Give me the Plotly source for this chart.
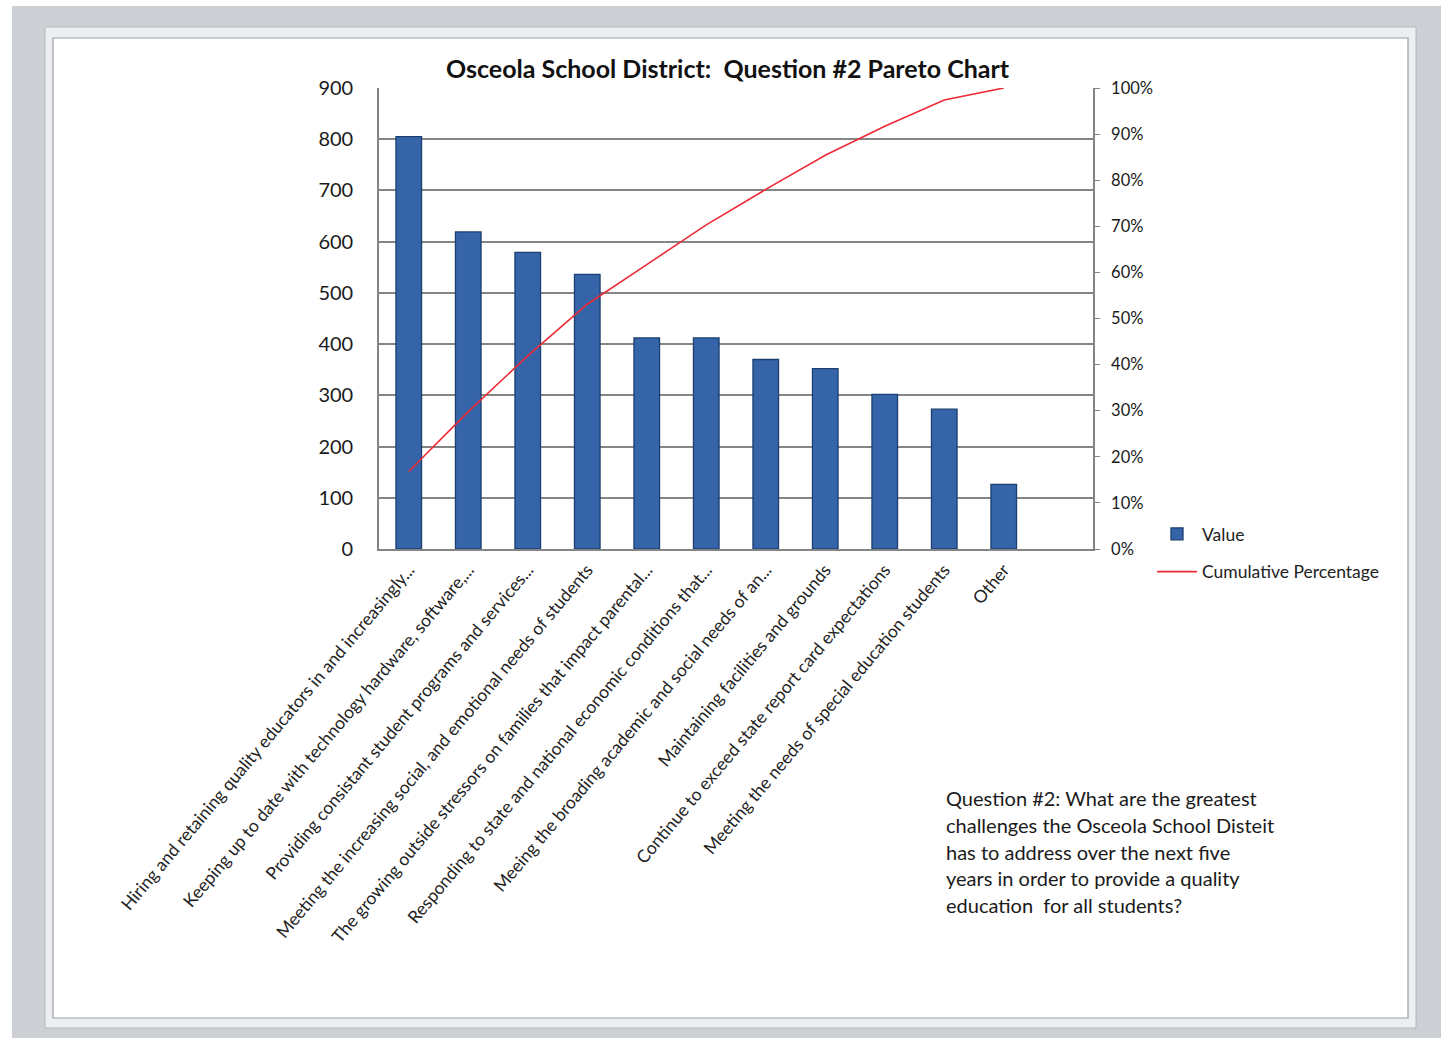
import plotly.graph_objects as go

categories = [
    "Hiring and retaining quality educators in and increasingly...",
    "Keeping up to date with technology hardware, software,...",
    "Providing consistant student programs and services...",
    "Meeting the increasing social, and emotional needs of students",
    "The growing outside stressors on families that impact parental...",
    "Responding to state and national economic conditions that...",
    "Meeing the broading academic and social needs of an...",
    "Maintaining facilities and grounds",
    "Continue to exceed state report card expectations",
    "Meeting the needs of special education students",
    "Other",
]
values = [805, 619, 579, 536, 412, 412, 370, 352, 302, 273, 126]
cum_pct = [0.168, 0.298, 0.419, 0.531, 0.617, 0.703, 0.780, 0.854, 0.917, 0.974, 1.0]

left_ticks = list(range(0, 901, 100))
right_ticks = [i / 10 for i in range(11)]

title_text = "Osceola School District:  Question #2 Pareto Chart"
note_lines = [
    "Question #2: What are the greatest",
    "challenges the Osceola School Disteit",
    "has to address over the next five",
    "years in order to provide a quality",
    "education  for all students?",
]

W, H = 1441, 1038
L, R, T, B = 379, 1093, 88, 549


def px(x):
    return (x - L) / (R - L)


def py(y):
    return (B - y) / (B - T)


FONT = "Lato, 'Open Sans', sans-serif"

fig = go.Figure()
fig.add_trace(go.Bar(
    x=categories, y=values, name="Value", legendgroup="a",
    marker=dict(color="#3565a8", line=dict(color="#1c3f70", width=1.3)),
    width=0.43,
))
fig.add_trace(go.Scatter(
    x=categories, y=cum_pct, name="Cumulative Percentage", yaxis="y2", legendgroup="b",
    mode="lines", line=dict(color="#ee2a35", width=1.6),
))

shapes = [
    dict(type="rect", xref="paper", yref="paper", x0=px(12), x1=px(1441), y0=py(1038), y1=py(6),
         fillcolor="#ccd0d5", line=dict(width=0), layer="below"),
    dict(type="rect", xref="paper", yref="paper", x0=px(45), x1=px(1416), y0=py(1028), y1=py(27),
         fillcolor="#eceef0", line=dict(color="#b4b8be", width=1), layer="below"),
    dict(type="rect", xref="paper", yref="paper", x0=px(53), x1=px(1408), y0=py(1018), y1=py(38),
         fillcolor="#ffffff", line=dict(color="#9a9ea4", width=1.2), layer="below"),
]

annotations = [
    dict(text=title_text, xref="paper", yref="paper", x=px(728), y=py(68), showarrow=False,
         xanchor="center", yanchor="middle",
         font=dict(family=FONT, size=25, color="#111111", weight="bold")),
]
for i, line in enumerate(note_lines):
    annotations.append(dict(
        text=line, xref="paper", yref="paper", x=px(944), y=py(798 + i * 26.8),
        showarrow=False, xanchor="left", yanchor="middle",
        font=dict(family=FONT, size=20, color="#1a1a1a"),
    ))

fig.update_layout(
    width=W, height=H,
    margin=dict(l=L, r=W - R, t=T, b=H - B, autoexpand=False),
    paper_bgcolor="#ffffff",
    plot_bgcolor="rgba(0,0,0,0)",
    font=dict(family=FONT, color="#222222"),
    showlegend=True,
    legend=dict(x=px(1152), y=py(516), xanchor="left", yanchor="top",
                font=dict(family=FONT, size=17.5, color="#222222"),
                bgcolor="rgba(0,0,0,0)", tracegroupgap=12, itemwidth=40),
    bargap=0.57,
    shapes=shapes,
    annotations=annotations,
    xaxis=dict(
        type="category", range=[-0.5, 11.5], tickangle=-50,
        tickfont=dict(family=FONT, size=17.5, color="#222222"),
        showline=True, linecolor="#858585", linewidth=1.6,
        showgrid=False, ticks="", ticklabelstandoff=2,
    ),
    yaxis=dict(
        range=[0, 900], tickvals=left_ticks, ticktext=[str(v) for v in left_ticks],
        showgrid=True, gridcolor="#858585", gridwidth=1.6,
        showline=True, linecolor="#858585", linewidth=1.6,
        tickfont=dict(family=FONT, size=20, color="#1a1a1a"),
        ticks="", ticklabelstandoff=20, zeroline=False,
    ),
    yaxis2=dict(
        overlaying="y", side="right", range=[0, 1], tickvals=right_ticks,
        tickformat=".0%", showgrid=False, zeroline=False,
        showline=True, linecolor="#858585", linewidth=1.6,
        ticks="outside", ticklen=5, tickcolor="#858585",
        tickfont=dict(family=FONT, size=16.5, color="#1a1a1a"),
        ticklabelstandoff=8,
    ),
)

fig.write_html("out.html")
